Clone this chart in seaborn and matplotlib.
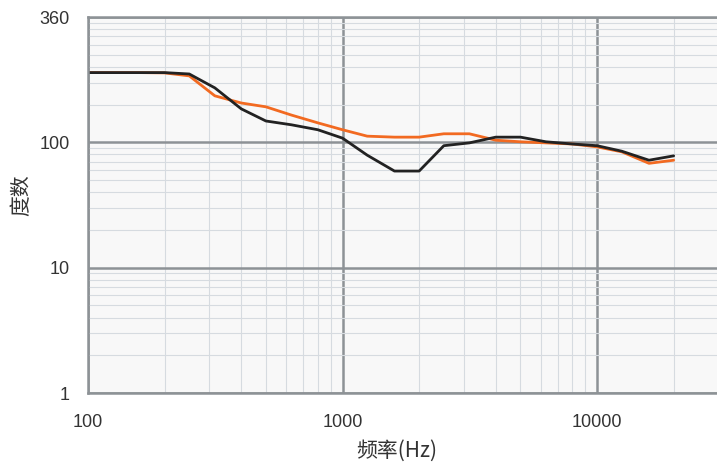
import matplotlib
matplotlib.use('Agg')
import matplotlib.pyplot as plt
import seaborn as sns
import pandas as pd

# 1/3 octave centre frequencies
freqs = [100, 125, 160, 200, 250, 315, 400, 500, 630, 800, 1000, 1250, 1600,
         2000, 2500, 3150, 4000, 5000, 6300, 8000, 10000, 12500, 16000, 20000]
black_vals = [360, 360, 360, 360, 351, 272, 185, 148, 138, 126, 108, 79, 59,
              59, 94, 99, 110, 110, 101, 97, 94, 85, 72, 78]
orange_vals = [360, 360, 360, 358, 339, 235, 206, 192, 165, 143, 126, 112, 110,
               110, 117, 117, 104, 101, 99, 97, 92, 84, 68, 72]
y_ticks = [1, 10, 100, 1000]
y_tick_labels = ['1', '10', '100', '360']
x_ticks = [100, 1000, 10000]
x_tick_labels = ['100', '1000', '10000']

df = pd.DataFrame({
    'freq': freqs * 2,
    'val': orange_vals + black_vals,
    'series': ['orange'] * len(freqs) + ['black'] * len(freqs),
})

sns.set_style('whitegrid')
plt.rcParams['font.family'] = ['Liberation Sans', 'Noto Sans CJK SC', 'DejaVu Sans']

fig = plt.figure(figsize=(7.17, 4.66), dpi=100)
ax = fig.add_axes([88/717, 1 - 393/466, 1 - 88/717, (393 - 17)/466])
ax.set_facecolor('#f8f8f8')

sns.lineplot(data=df, x='freq', y='val', hue='series',
             palette={'orange': '#f26a21', 'black': '#222222'},
             linewidth=2.0, legend=False, ax=ax)

ax.set_xscale('log')
ax.set_yscale('log')
ax.set_xlim(100, 29600)
ax.set_ylim(1, 1000)

ax.set_xticks(x_ticks)
ax.set_xticklabels(x_tick_labels)
ax.set_yticks(y_ticks)
ax.set_yticklabels(y_tick_labels)

ax.grid(which='major', color='#8d9296', linewidth=1.8)
ax.grid(which='minor', color='#d6dbe0', linewidth=0.8)
ax.set_axisbelow(True)

ax.spines['right'].set_visible(False)
for side in ['left', 'bottom', 'top']:
    ax.spines[side].set_color('#8d9296')
    ax.spines[side].set_linewidth(1.8)

ax.tick_params(axis='both', which='major', length=5, color='#8d9296',
               labelsize=13, labelcolor='#333333')
ax.tick_params(axis='both', which='minor', length=0)
ax.tick_params(axis='y', pad=8)
ax.tick_params(axis='x', pad=10)

cjk = ['Noto Sans CJK SC', 'DejaVu Sans']
ax.set_xlabel('频率(Hz)', fontsize=15, color='#333333', family=cjk)
ax.set_ylabel('度数', fontsize=15, color='#333333', family=cjk)
ax.xaxis.set_label_coords(0.49, -0.125)
ax.yaxis.set_label_coords(-0.088, 0.527)

plt.savefig('out.png', dpi=100)
